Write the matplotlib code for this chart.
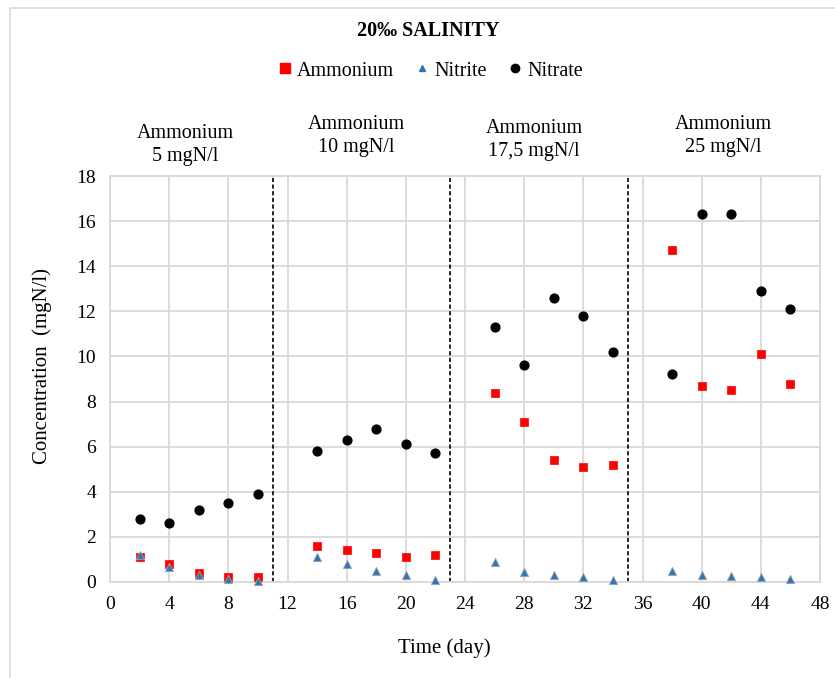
import matplotlib
matplotlib.use("Agg")
import matplotlib.pyplot as plt
from matplotlib.lines import Line2D
from matplotlib.patches import Rectangle

days = [2, 4, 6, 8, 10, 14, 16, 18, 20, 22, 26, 28, 30, 32, 34, 38, 40, 42, 44, 46]
ammonium = [1.1, 0.8, 0.4, 0.2, 0.2, 1.6, 1.4, 1.3, 1.1, 1.2,
            8.4, 7.1, 5.4, 5.1, 5.2, 14.7, 8.7, 8.5, 10.1, 8.8]
nitrite = [1.2, 0.65, 0.3, 0.15, 0.05, 1.1, 0.8, 0.5, 0.3, 0.1,
           0.9, 0.45, 0.3, 0.2, 0.1, 0.5, 0.3, 0.25, 0.2, 0.15]
nitrate = [2.8, 2.6, 3.2, 3.5, 3.9, 5.8, 6.3, 6.8, 6.1, 5.7,
           11.3, 9.6, 12.6, 11.8, 10.2, 9.2, 16.3, 16.3, 12.9, 12.1]
separators = [11, 23, 35]
phase_labels = ["Ammonium\n5 mgN/l", "Ammonium\n10 mgN/l",
                "Ammonium\n17,5 mgN/l", "Ammonium\n25 mgN/l"]
x_ticks = list(range(0, 49, 4))
y_ticks = list(range(0, 19, 2))

plt.rcParams['font.family'] = ['Liberation Serif', 'DejaVu Serif']

W, H = 835, 678
fig = plt.figure(figsize=(W / 100, H / 100), dpi=100)

def fx(px):
    return px / W

def fy(py):
    return 1 - py / H

# outer border (only top and left edges fall inside the image)
fig.patches.append(Rectangle((fx(10), fy(700)), fx(900), (700 - 8) / H,
                             transform=fig.transFigure, fill=False,
                             edgecolor='#d9d9d9', lw=1.2))

ax = fig.add_axes([fx(110), fy(582), fx(820) - fx(110), fy(176) - fy(582)])
ax.set_xlim(0, 48)
ax.set_ylim(0, 18)
ax.set_xticks(x_ticks)
ax.set_yticks(y_ticks)
ax.grid(True, color='#d9d9d9', lw=1.3)
ax.set_axisbelow(True)
for s in ax.spines.values():
    s.set_color('#d9d9d9')
    s.set_linewidth(1.3)
ax.tick_params(length=0, labelsize=14, pad=10)

for sx in separators:
    ax.axvline(sx, color='black', ls=(0, (2.5, 1.5)), lw=1.2, zorder=2)

ax.scatter(days, ammonium, marker='s', s=36, color='#ff0000', edgecolors='#ff0000',
           linewidths=0.5, zorder=3, clip_on=False)
ax.scatter(days, nitrite, marker='^', s=36, color='#2e75b6', edgecolors='#a5a5a5',
           linewidths=0.6, zorder=4, clip_on=False)
ax.scatter(days, nitrate, marker='o', s=40, color='black', zorder=5, clip_on=False)

fig.text(fx(444), fy(648), "Time (day)", ha='center', va='center', fontsize=15)
fig.text(fx(42), fy(366), "Concentration  (mgN/l)", ha='center', va='center',
         rotation=90, fontsize=15)

fig.text(fx(428), fy(31), "20\u2030 SALINITY", ha='center', va='center',
         fontsize=14.5, fontweight='bold')

label_x = [185, 356, 534, 723]
label_y = [145, 136, 140, 136]
for lx, ly, txt in zip(label_x, label_y, phase_labels):
    fig.text(fx(lx), fy(ly), txt, ha='center', va='center', fontsize=14.5,
             linespacing=1.35, multialignment='center')

handles = [
    Line2D([], [], ls='none', marker='s', ms=7, color='#ff0000'),
    Line2D([], [], ls='none', marker='^', ms=5, color='#2e75b6'),
    Line2D([], [], ls='none', marker='o', ms=6, color='black'),
]
fig.legend(handles, ["Ammonium", "Nitrite", "Nitrate"], loc='center',
           bbox_to_anchor=(fx(431), fy(71)), ncol=3, frameon=False,
           fontsize=14.5, handlelength=0.6, handletextpad=0.3,
           columnspacing=1.1, borderpad=0)

fig.savefig("out.png", dpi=100)
